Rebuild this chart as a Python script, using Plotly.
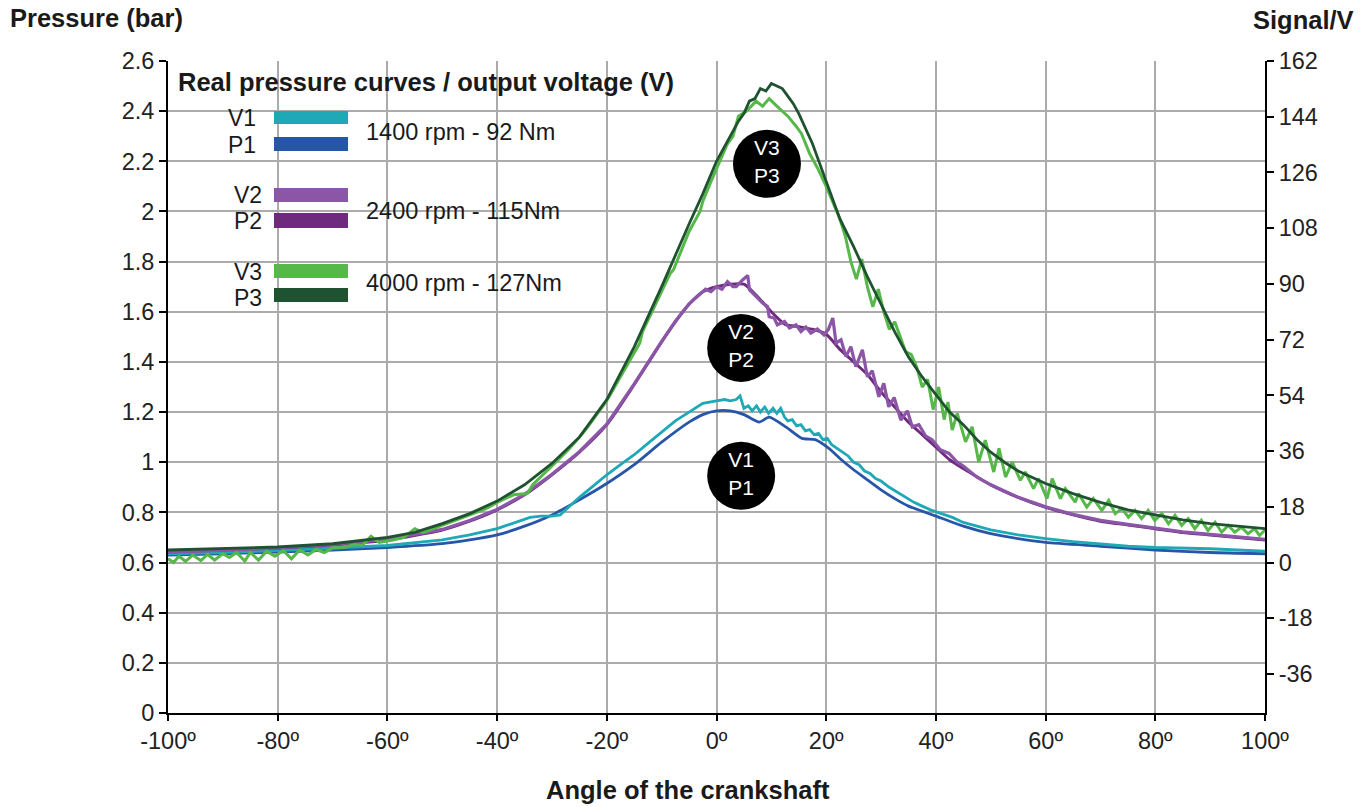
import plotly.graph_objects as go

# ---------------- data ----------------
p1_x = [-100, -90, -80, -70, -60, -50, -45, -40, -35, -30, -25, -20, -15, -10, -5, -2.5, 0, 2.5, 5, 7.8, 9.6,
        12.7, 15.6, 18, 20.5, 22.5, 25, 27.5, 30, 32.5, 35, 37.5, 40, 45, 50, 55, 60, 70, 80, 90, 100]
p1_y = [0.63, 0.635, 0.642, 0.65, 0.66, 0.675, 0.69, 0.71, 0.745, 0.79, 0.85, 0.915, 0.99, 1.08, 1.16, 1.19, 1.205,
        1.205, 1.19, 1.16, 1.18, 1.14, 1.095, 1.09, 1.055, 1.015, 0.97, 0.93, 0.89, 0.855, 0.825, 0.805, 0.785,
        0.745, 0.715, 0.695, 0.68, 0.665, 0.65, 0.64, 0.635]

v1_x = [-100, -90, -80, -70, -60, -50, -45, -40, -36, -34, -32, -30, -28.5, -27, -25, -22.5, -20, -17.5, -15,
        -12.5, -10, -7.5, -5, -2.5, 0, 1.5, 2.5, 3.6, 4.3, 5, 5.8, 6.5, 7.3, 8, 8.8, 9.5, 10.3, 11, 11.7, 12.4, 13,
        13.8, 14.6, 15.4, 16.2, 17, 17.8, 18.6, 19.4, 20.2, 21, 22, 23, 24, 25, 26, 27, 28, 29, 30, 31.5, 33,
        34.5, 36, 37.5, 39, 41, 43, 45, 47.5, 50, 55, 60, 65, 70, 75, 80, 85, 90, 95, 100]
v1_y = [0.635, 0.64, 0.648, 0.657, 0.668, 0.69, 0.71, 0.735, 0.765, 0.78, 0.785, 0.785, 0.79, 0.82, 0.86, 0.905,
        0.95, 0.99, 1.03, 1.075, 1.12, 1.165, 1.20, 1.235, 1.245, 1.25, 1.245, 1.25, 1.265, 1.215, 1.225, 1.205,
        1.225, 1.20, 1.22, 1.195, 1.215, 1.195, 1.215, 1.18, 1.165, 1.17, 1.145, 1.15, 1.125, 1.13, 1.11, 1.115,
        1.09, 1.095, 1.07, 1.055, 1.04, 1.025, 1.0, 0.99, 0.965, 0.955, 0.935, 0.925, 0.9, 0.88, 0.86, 0.84, 0.825,
        0.81, 0.795, 0.78, 0.76, 0.745, 0.73, 0.71, 0.695, 0.683, 0.673, 0.665, 0.66, 0.658, 0.655, 0.65, 0.645]

p2_x = [-100, -90, -80, -70, -60, -50, -45, -40, -35, -30, -25, -20, -15, -10, -7.5, -5, -2.5, 0, 2.5, 5, 7.5,
        10, 12.5, 15, 17.5, 20, 22.5, 25, 27.5, 30, 32.5, 35, 37.5, 40, 42.5, 45, 50, 55, 60, 65, 70, 75, 80, 85,
        90, 95, 100]
p2_y = [0.645, 0.65, 0.658, 0.67, 0.69, 0.73, 0.765, 0.81, 0.87, 0.95, 1.04, 1.15, 1.31, 1.48, 1.56, 1.63, 1.68,
        1.70, 1.71, 1.71, 1.66, 1.60, 1.55, 1.54, 1.53, 1.51, 1.45, 1.40, 1.35, 1.28, 1.22, 1.16, 1.11, 1.06, 1.01,
        0.975, 0.91, 0.86, 0.82, 0.79, 0.765, 0.75, 0.735, 0.72, 0.71, 0.70, 0.69]

v2_x = [-100, -90, -80, -70, -60, -50, -45, -40, -35, -30, -25, -20, -15, -10, -7.5, -5, -3, -2, -1, 0, 1, 2, 3,
        3.6, 4.8, 5.7, 6, 7.2, 8.4, 9.3, 9.6, 10.5, 11.1, 12.4, 13.3, 14.5, 15.4, 16.3, 17.2, 18.4, 19.6, 20.4,
        21.2, 21.8, 22.7, 23.6, 24.5, 25.4, 26.6, 27.5, 28.4, 29.6, 30.5, 31.4, 32.4, 33.6, 34.8, 35.7, 36.9,
        38.1, 39.3, 40.8, 42.4, 43.9, 45, 47.5, 50, 55, 60, 65, 70, 75, 80, 85, 90, 95, 100]
v2_y = [0.64, 0.648, 0.658, 0.672, 0.692, 0.732, 0.768, 0.812, 0.872, 0.952, 1.042, 1.152, 1.312, 1.482, 1.562,
        1.632, 1.67, 1.69, 1.68, 1.70, 1.69, 1.72, 1.70, 1.70, 1.728, 1.745, 1.688, 1.661, 1.635, 1.621, 1.58,
        1.575, 1.548, 1.561, 1.535, 1.548, 1.521, 1.539, 1.515, 1.531, 1.508, 1.53, 1.575, 1.475, 1.488, 1.421,
        1.461, 1.381, 1.448, 1.341, 1.365, 1.261, 1.315, 1.221, 1.258, 1.168, 1.205, 1.141, 1.15, 1.105, 1.09,
        1.05, 1.035, 1.0, 0.985, 0.94, 0.91, 0.86, 0.822, 0.792, 0.768, 0.752, 0.737, 0.722, 0.712, 0.702, 0.692]

p3_x = [-100, -90, -80, -70, -60, -55, -50, -45, -40, -35, -30, -25, -20, -15, -10, -5, -2.5, 0, 2, 4, 5, 6, 7,
        8, 9, 10, 11, 12, 13, 14, 15, 17.5, 20, 22.5, 25, 27.5, 30, 32.5, 35, 37.5, 40, 42.5, 45, 47.5, 50, 52.5,
        55, 60, 65, 70, 75, 80, 85, 90, 95, 100]
p3_y = [0.65, 0.655, 0.662, 0.675, 0.70, 0.72, 0.755, 0.795, 0.845, 0.91, 0.995, 1.10, 1.25, 1.46, 1.70, 1.95,
        2.07, 2.20, 2.28, 2.36, 2.39, 2.44, 2.45, 2.49, 2.48, 2.51, 2.50, 2.49, 2.46, 2.43, 2.39, 2.27, 2.12, 1.97,
        1.86, 1.74, 1.63, 1.52, 1.42, 1.34, 1.27, 1.20, 1.15, 1.09, 1.04, 1.00, 0.965, 0.915, 0.875, 0.84, 0.81,
        0.79, 0.77, 0.755, 0.745, 0.735]

v3_x = [-100, -99, -98, -96.8, -95.5, -94, -92.8, -91.5, -90, -88.8, -87.5, -86, -85, -83.5, -82, -80.5, -79,
        -77.5, -76, -74.5, -73, -71.5, -70, -68, -66, -64.5, -63, -61.5, -59, -57, -55, -53.5, -51, -48, -45, -42,
        -40, -37, -34.5, -33.5, -30, -27, -24.4, -23.5, -20, -17, -14, -13.5, -10, -8.5, -7.8, -5, -3, -2.5, -1,
        0, 0.5, 2, 3, 4, 5.5, 7.2, 8.4, 9.6, 11, 12, 13, 14.5, 15.5, 17, 18.5, 20, 21.5, 22.5, 23.5, 24.5, 25.5,
        26.5, 27.5, 28.5, 29.5, 30.5, 31.5, 32.5, 33.5, 34.5, 35.5, 36.5, 37.5, 38.5, 39.5, 40.5, 41.5, 42.2,
        42.97, 43.9, 45.4, 46.6, 47.8, 49.0, 50.55, 51.5, 52.7, 53.9, 55.4, 56.3, 57.8, 58.7, 60.25, 61.2, 62.7,
        63.6, 65.4, 66.0, 67.5, 68.7, 70.25, 71.5, 72.7, 73.9, 75.1, 76.3, 77.5, 78.7, 79.9, 81.2, 82.4, 83.6,
        84.8, 86.0, 87.2, 88.4, 89.6, 90.9, 92.1, 93.3, 94.5, 95.7, 96.9, 98.1, 99.0, 100]
v3_y = [0.615, 0.60, 0.625, 0.605, 0.63, 0.608, 0.632, 0.61, 0.635, 0.62, 0.64, 0.606, 0.64, 0.61, 0.645, 0.625,
        0.648, 0.615, 0.65, 0.63, 0.652, 0.64, 0.658, 0.66, 0.672, 0.67, 0.705, 0.68, 0.69, 0.70, 0.735, 0.72,
        0.74, 0.765, 0.79, 0.815, 0.84, 0.87, 0.875, 0.91, 0.985, 1.05, 1.115, 1.14, 1.245, 1.36, 1.475, 1.52,
        1.68, 1.75, 1.77, 1.92, 2.0, 2.04, 2.12, 2.17, 2.2, 2.27, 2.30, 2.38, 2.40, 2.44, 2.42, 2.45, 2.42, 2.40,
        2.38, 2.34, 2.31, 2.23, 2.17, 2.10, 2.02, 1.97, 1.90, 1.80, 1.73, 1.81, 1.70, 1.62, 1.69, 1.60, 1.53, 1.56,
        1.50, 1.44, 1.43, 1.38, 1.30, 1.33, 1.21, 1.30, 1.17, 1.24, 1.128, 1.195, 1.081, 1.141, 1.001, 1.088,
        0.961, 1.055, 0.941, 1.001, 0.928, 0.961, 0.895, 0.935, 0.855, 0.935, 0.855, 0.895, 0.841, 0.875, 0.821,
        0.855, 0.808, 0.848, 0.795, 0.815, 0.781, 0.808, 0.775, 0.808, 0.768, 0.795, 0.755, 0.788, 0.748, 0.775,
        0.735, 0.768, 0.728, 0.761, 0.721, 0.748, 0.721, 0.741, 0.715, 0.735, 0.708, 0.73]

x_ticks = [-100, -80, -60, -40, -20, 0, 20, 40, 60, 80, 100]
x_tick_labels = ["-100º", "-80º", "-60º", "-40º", "-20º", "0º", "20º", "40º", "60º", "80º", "100º"]
y_ticks = [0, 0.2, 0.4, 0.6, 0.8, 1, 1.2, 1.4, 1.6, 1.8, 2, 2.2, 2.4, 2.6]
y_tick_labels = ["0", "0.2", "0.4", "0.6", "0.8", "1", "1.2", "1.4", "1.6", "1.8", "2", "2.2", "2.4", "2.6"]
y2_ticks = [-36, -18, 0, 18, 36, 54, 72, 90, 108, 126, 144, 162]
y2_tick_labels = ["-36", "-18", "0", "18", "36", "54", "72", "90", "108", "126", "144", "162"]

badge_x = [9.2, 4.5, 4.5]
badge_y = [2.19, 1.456, 0.946]
badge_text = ["V3<br>P3", "V2<br>P2", "V1<br>P1"]

legend_title = "Real pressure curves / output voltage (V)"
legend_groups = ["1400 rpm - 92 Nm", "2400 rpm - 115Nm", "4000 rpm - 127Nm"]

# ---------------- styling ----------------
C_V1, C_P1 = "#1fa8b6", "#2756a8"
C_V2, C_P2 = "#8b55a8", "#6e2a7c"
C_V3, C_P3 = "#55b848", "#1f5230"
FONT = "Liberation Sans, Arial, Helvetica, sans-serif"
GRID = "#ababab"

W, H = 1371, 807
L, R, T, B = 168, 106, 61, 94
PW, PH = W - L - R, H - T - B


def fx(px):
    return (px - L) / PW


def fy(py):
    return (H - B - py) / PH


fig = go.Figure()
series = [
    (p1_x, p1_y, C_P1, 2.8, "spline"),
    (v1_x, v1_y, C_V1, 2.8, "linear"),
    (p2_x, p2_y, C_P2, 3.0, "spline"),
    (v2_x, v2_y, C_V2, 3.2, "linear"),
    (v3_x, v3_y, C_V3, 3.0, "linear"),
    (p3_x, p3_y, C_P3, 2.8, "linear"),
]
for xs, ys, col, w, shape in series:
    fig.add_trace(go.Scatter(x=xs, y=ys, mode="lines",
                             line=dict(color=col, width=w, shape=shape, smoothing=0.6) if shape == "spline"
                             else dict(color=col, width=w),
                             showlegend=False, hoverinfo="skip"))

# right axis carrier
fig.add_trace(go.Scatter(x=[0], y=[0], yaxis="y2", mode="markers", marker=dict(opacity=0),
                         showlegend=False, hoverinfo="skip"))

# badges
fig.add_trace(go.Scatter(x=badge_x, y=badge_y, mode="markers+text", text=badge_text,
                         textposition="middle center",
                         textfont=dict(color="white", size=21, family=FONT),
                         marker=dict(size=68, color="black", line=dict(width=0)),
                         showlegend=False, hoverinfo="skip", cliponaxis=False))

shapes = []
# white legend backgrounds
shapes.append(dict(type="rect", xref="paper", yref="paper", x0=fx(220), x1=fx(590), y0=fy(318), y1=fy(100),
                   fillcolor="white", line=dict(width=0), layer="between"))
shapes.append(dict(type="rect", xref="paper", yref="paper", x0=fx(171), x1=fx(692), y0=fy(100), y1=fy(66),
                   fillcolor="white", line=dict(width=0), layer="between"))
# swatches
for (top, bot), col in zip([(111, 124), (137, 151), (188, 202), (213, 228), (264, 278), (288, 302)],
                           [C_V1, C_P1, C_V2, C_P2, C_V3, C_P3]):
    shapes.append(dict(type="rect", xref="paper", yref="paper", x0=fx(274), x1=fx(348), y0=fy(bot), y1=fy(top),
                       fillcolor=col, line=dict(width=0), layer="above"))

ann = []
ann.append(dict(text="<b>Pressure (bar)</b>", x=fx(8), y=fy(18), xanchor="left", yanchor="middle"))
ann.append(dict(text="<b>Signal/V</b>", x=fx(1356), y=fy(20), xanchor="right", yanchor="middle"))
ann.append(dict(text="<b>Angle of the crankshaft</b>", x=fx(688), y=fy(790), xanchor="center", yanchor="middle"))
ann.append(dict(text="<b>" + legend_title + "</b>", x=fx(176), y=fy(82), xanchor="left", yanchor="middle",
                font=dict(size=25.5)))
for lab, rx, cy in [("V1", 258, 118), ("P1", 258, 145), ("V2", 264, 195), ("P2", 264, 221),
                    ("V3", 264, 272), ("P3", 264, 298)]:
    ann.append(dict(text=lab, x=fx(rx), y=fy(cy), xanchor="right", yanchor="middle", font=dict(size=23)))
for txt, cy in zip(legend_groups, [132, 211, 283]):
    ann.append(dict(text=txt, x=fx(364), y=fy(cy), xanchor="left", yanchor="middle", font=dict(size=23.5)))
for a in ann:
    a.update(xref="paper", yref="paper", showarrow=False)
    f = a.get("font", {})
    a["font"] = dict(family=FONT, color="#1a1a1a", size=f.get("size", 25.5))

axis_common = dict(showline=True, linecolor="black", linewidth=2, ticks="outside", tickcolor="black",
                   tickwidth=2, zeroline=False, tickfont=dict(family=FONT, size=23.5, color="#222222"))

fig.update_layout(
    width=W, height=H, margin=dict(l=L, r=R, t=T, b=B, autoexpand=False),
    paper_bgcolor="white", plot_bgcolor="white",
    font=dict(family=FONT),
    xaxis=dict(range=[-100, 100], tickvals=x_ticks, ticktext=x_tick_labels, showgrid=True, gridcolor=GRID,
               gridwidth=1.6, ticklen=6, **axis_common),
    yaxis=dict(range=[0, 2.6], tickvals=y_ticks, ticktext=y_tick_labels, showgrid=True, gridcolor=GRID,
               gridwidth=1.6, ticklen=7, **axis_common),
    yaxis2=dict(range=[-48.6, 162], tickvals=y2_ticks, ticktext=y2_tick_labels, overlaying="y", side="right",
                showgrid=False, ticklen=7, **axis_common),
    shapes=shapes, annotations=ann,
)

fig.write_html("out.html")
